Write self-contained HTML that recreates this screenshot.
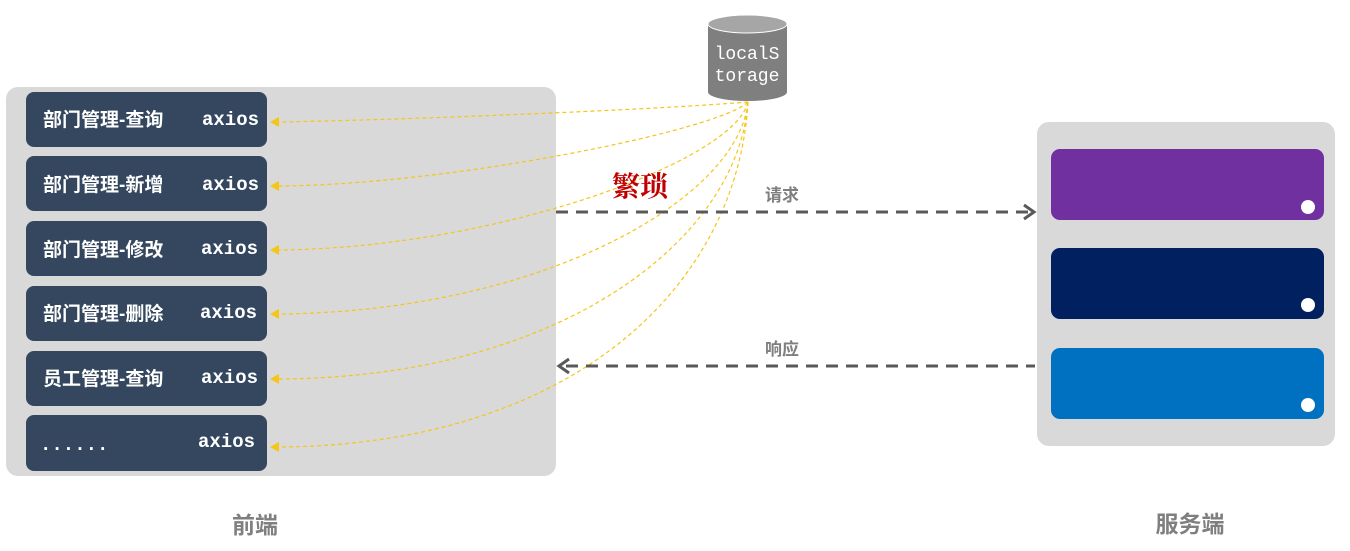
<!DOCTYPE html>
<html><head><meta charset="utf-8"><style>
html,body{margin:0;padding:0;background:#fff;}
svg{display:block;}
.it{font-family:"Liberation Sans","Noto Sans CJK SC",sans-serif;font-weight:bold;font-size:19px;fill:#fff;}
.ax{font-family:"Liberation Mono","DejaVu Sans Mono",monospace;font-weight:bold;font-size:19px;fill:#fff;}
.lb{font-family:"Liberation Sans","Noto Sans CJK SC",sans-serif;font-weight:bold;fill:#7f7f7f;}
</style></head><body>
<svg width="1350" height="551" viewBox="0 0 1350 551" xmlns="http://www.w3.org/2000/svg">
<rect x="6" y="87" width="550" height="389" rx="12" fill="#d9d9d9"/>
<rect x="1037" y="122" width="298" height="324" rx="12" fill="#d9d9d9"/>
<rect x="1051" y="149" width="273" height="71" rx="9" fill="#7030a0"/>
<rect x="1051" y="248" width="273" height="71" rx="9" fill="#002060"/>
<rect x="1051" y="348" width="273" height="71" rx="9" fill="#0070c0"/>
<circle cx="1308" cy="207" r="7" fill="#fff"/>
<circle cx="1308" cy="305" r="7" fill="#fff"/>
<circle cx="1308" cy="405" r="7" fill="#fff"/>

<g>
<rect x="26" y="92" width="241" height="55" rx="8" fill="#34475f"/>
<text class="it" x="43" y="126">部门管理-查询</text><text class="ax" x="202" y="125">axios</text>
<rect x="26" y="156" width="241" height="55" rx="8" fill="#34475f"/>
<text class="it" x="43" y="191">部门管理-新增</text><text class="ax" x="202" y="190">axios</text>
<rect x="26" y="221" width="241" height="55" rx="8" fill="#34475f"/>
<text class="it" x="43" y="256">部门管理-修改</text><text class="ax" x="201" y="254">axios</text>
<rect x="26" y="286" width="241" height="55" rx="8" fill="#34475f"/>
<text class="it" x="43" y="320">部门管理-删除</text><text class="ax" x="200" y="318">axios</text>
<rect x="26" y="351" width="241" height="55" rx="8" fill="#34475f"/>
<text class="it" x="43" y="385">员工管理-查询</text><text class="ax" x="201" y="383">axios</text>
<rect x="26" y="415" width="241" height="56" rx="8" fill="#34475f"/>
<text class="ax" x="40" y="450">......</text><text class="ax" x="198" y="447">axios</text>
</g>

<g fill="none" stroke="#f5c518" stroke-width="1.2" stroke-dasharray="4,3">
<path d="M748,102 C650,110 400,120 278,122"/>
<path d="M748,102 C720,130 450,185 278,186"/>
<path d="M748,102 C735,160 500,248 278,250"/>
<path d="M748,102 C738,200 540,312 278,314"/>
<path d="M748,102 C738,240 560,378 278,379"/>
<path d="M748,102 C738,280 580,445 278,447"/>
</g>
<g fill="#f5c518">
<path d="M270,122 L279,117 L279,127Z"/>
<path d="M270,186 L279,181 L279,191Z"/>
<path d="M270,250 L279,245 L279,255Z"/>
<path d="M270,314 L279,309 L279,319Z"/>
<path d="M270,379 L279,374 L279,384Z"/>
<path d="M270,447 L279,442 L279,452Z"/>
</g>

<g stroke="#595959" stroke-width="3" fill="none">
<line x1="556" y1="212" x2="1030" y2="212" stroke-dasharray="12,8"/>
<path d="M1024,205 L1034,212 L1024,219"/>
<line x1="566" y1="366" x2="1035" y2="366" stroke-dasharray="12,8"/>
<path d="M569,359 L559,366 L569,373"/>
</g>

<rect x="708" y="24" width="79" height="68" fill="#7f7f7f"/>
<ellipse cx="747.5" cy="92" rx="39.5" ry="9" fill="#7f7f7f"/>
<ellipse cx="747.5" cy="24" rx="39.5" ry="9" fill="#a6a6a6" stroke="#fff" stroke-width="1"/>
<text x="747" y="59" text-anchor="middle" font-family="Liberation Mono,monospace" font-size="18" fill="#fff">localS</text>
<text x="747" y="81" text-anchor="middle" font-family="Liberation Mono,monospace" font-size="18" fill="#fff">torage</text>

<text x="640" y="196" text-anchor="middle" font-family="Liberation Serif,Noto Serif CJK SC,serif" font-weight="bold" font-size="28" fill="#c00000">繁琐</text>
<text class="lb" x="782" y="201" font-size="17" text-anchor="middle">请求</text>
<text class="lb" x="782" y="355" font-size="17" text-anchor="middle">响应</text>
<text class="lb" x="255" y="533" font-size="23" text-anchor="middle">前端</text>
<text class="lb" x="1190" y="532" font-size="23" text-anchor="middle">服务端</text>
</svg>
</body></html>
